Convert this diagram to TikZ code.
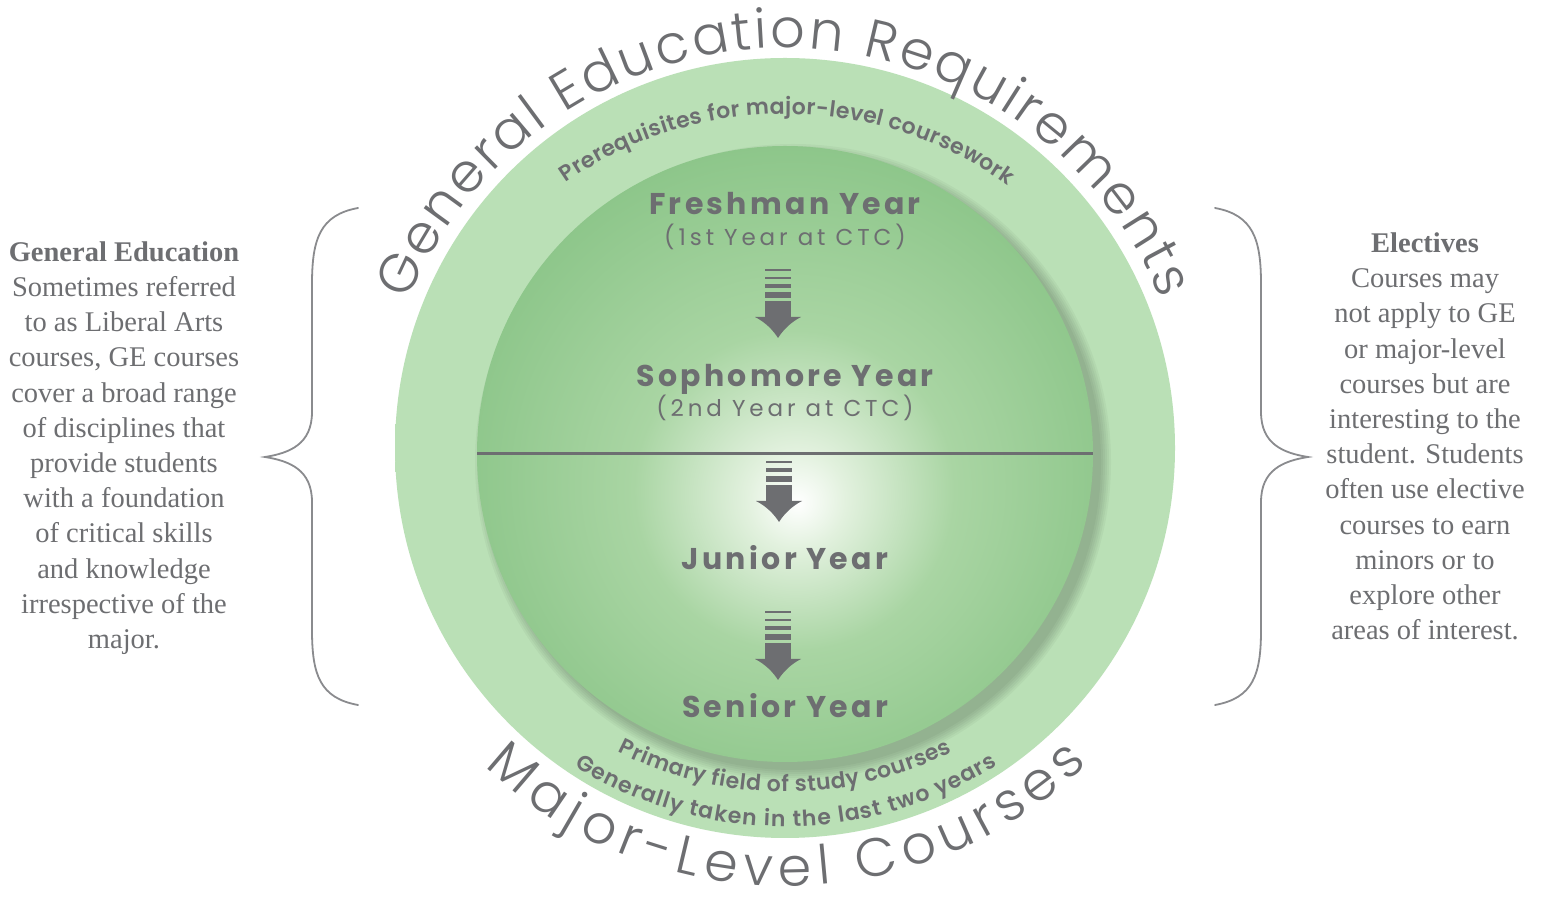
\documentclass[tikz,border=0pt]{standalone}
\usepackage{fontspec}
\setmainfont{Liberation Serif}
\newfontfamily\geolight{Poppins Light}
\newfontfamily\geoyear[LetterSpace=11]{Poppins Bold}
\newfontfamily\geosub[LetterSpace=17]{Poppins}
\newfontfamily\geoarc{Poppins SemiBold}
\usetikzlibrary{decorations.text}

\definecolor{tgray}{HTML}{6D6E71}
\definecolor{bracegray}{HTML}{8A8B8E}
\definecolor{ringA}{HTML}{BAE0B6}
\definecolor{ringB}{HTML}{AAD9A7}
\definecolor{ringC}{HTML}{9CD19C}
\definecolor{glowA}{HTML}{E2F1DE}
\definecolor{glowB}{HTML}{A9D5A3}
\definecolor{glowC}{HTML}{8DC68A}
\definecolor{glowD}{HTML}{7CB979}

% light ring of the outer disc, brighter towards the middle
\pgfdeclareradialshading{ringglow}{\pgfpoint{0bp}{0bp}}{%
  color(0bp)=(ringA); color(39.5bp)=(ringA); color(45bp)=(ringB); color(50bp)=(ringC)}
% inner disc: white glow slightly below the centre, fading to green
\pgfdeclareradialshading{yearglow}{\pgfpoint{1bp}{-4bp}}{%
  color(0bp)=(white); color(4bp)=(glowA); color(13bp)=(glowB); color(27bp)=(glowC); color(50bp)=(glowD)}

% bars and arrow head of the step arrows (tip at the origin)
\newcommand\stepshaft{%
  \fill[tgray] (-13,21) rectangle (13,37);
  \fill[tgray] (-23,21) .. controls (-13,16) and (-5,8) .. (0,0)
               .. controls (5,8) and (13,16) .. (23,21) -- cycle;
  \fill[tgray] (-13,40) rectangle (13,46);
  \fill[tgray] (-13,50) rectangle (13,53.5);
  \fill[tgray] (-13,58.5) rectangle (13,61);}

\tikzset{
  stepthree/.pic={\stepshaft},
  stepfour/.pic={\stepshaft \fill[tgray] (-13,66.5) rectangle (13,68.5);},
  yearlabel/.style={font=\geoyear\fontsize{30}{30}\selectfont, text=tgray, anchor=base, inner sep=0pt},
  yearsub/.style={font=\geosub\fontsize{23}{23}\selectfont, text=tgray, anchor=base, inner sep=0pt},
  sidetext/.style={font=\fontsize{28.5}{35.2}\selectfont, text=tgray, align=center, inner sep=0pt},
  bracestroke/.style={draw=bracegray, line width=1.8pt, line cap=round},
}

\begin{document}
\begin{tikzpicture}[x=1pt,y=1pt]
\useasboundingbox[fill=white] (0,0) rectangle (1541,899);

% outer disc
\node[circle, minimum size=780pt, inner sep=0pt, outer sep=0pt, shading=ringglow] (outer) at (785,451) {};

% soft shadow to the lower right of the inner disc
\foreach \r in {308,310,...,318}
  \fill[black, opacity=0.035] (793,437) circle[radius=\r pt];

% inner disc and its dividing line
\node[circle, minimum size=616pt, inner sep=0pt, outer sep=0pt, shading=yearglow] (inner) at (785,445) {};
\draw[tgray, line width=3pt] (inner.west) -- (inner.east);

% arc centres
\coordinate (gec) at (785,444);
\coordinate (mlc) at (785,449);
\coordinate (prc) at (785,401);
\coordinate (pfc) at (785,475);
\coordinate (gtc) at (785,470);

% large arc titles
\path[decorate, decoration={text along path, text align={fit to path},
  text={|\geolight\fontsize{54}{54}\selectfont\color{tgray}|General Education Requirements}}]
  ([shift={(157.8:407pt)}]gec) arc[start angle=157.8, end angle=22.5, radius=407pt];
\path[decorate, decoration={text along path, text align={fit to path},
  text={|\geolight\fontsize{54}{54}\selectfont\color{tgray}|Major-Level Courses}}]
  ([shift={(226.5:436pt)}]mlc) arc[start angle=226.5, end angle=314, radius=436pt];

% small arc captions on the ring
\path[decorate, decoration={text along path, text align={fit to path},
  text={|\geoarc\fontsize{22}{22}\selectfont\color{tgray}|Prerequisites for major-level coursework}}]
  ([shift={(124.8:384pt)}]prc) arc[start angle=124.8, end angle=54.5, radius=384pt];
\path[decorate, decoration={text along path, text align={fit to path},
  text={|\geoarc\fontsize{22}{22}\selectfont\color{tgray}|Primary field of study courses}}]
  ([shift={(243:368pt)}]pfc) arc[start angle=243, end angle=297, radius=368pt];
\path[decorate, decoration={text along path, text align={fit to path},
  text={|\geoarc\fontsize{22}{22}\selectfont\color{tgray}|Generally taken in the last two years}}]
  ([shift={(238:397.5pt)}]gtc) arc[start angle=238, end angle=302.3, radius=397.5pt];

% year labels
\node[yearlabel] (fresh) at (785,684) {Freshman Year};
\node[yearsub]   (freshsub) at (785,653) {(1st Year at CTC)};
\node[yearlabel] (soph) at (785,512) {Sophomore Year};
\node[yearsub]   (sophsub) at (785,482) {(2nd Year at CTC)};
\node[yearlabel] (junior) at (785,329) {Junior Year};
\node[yearlabel] (senior) at (785,181) {Senior Year};

% step arrows between the years
\pic (arrowone) at (778,561) {stepfour};
\pic (arrowtwo) at (779,377) {stepthree};
\pic (arrowthree) at (778,219) {stepfour};

% side notes
\node[sidetext] (getext) at (124,451) {\textbf{General Education}\\Sometimes referred\\to as Liberal Arts\\courses, GE courses\\cover a broad range\\of disciplines that\\provide students\\with a foundation\\of critical skills\\and knowledge\\irrespective of the\\major.};
\node[sidetext] (eltext) at (1425,462.5) {\textbf{Electives}\\Courses may\\not apply to GE\\or major-level\\courses but are\\interesting to the\\student. Students\\often use elective\\courses to earn\\minors or to\\explore other\\areas of interest.};

% curly braces
\coordinate (lbtop) at (358,691);
\coordinate (lbtip) at (265,442);
\coordinate (lbbot) at (358,194);
\draw[bracestroke] (lbtop) .. controls (320,684) and (312,660) .. (312,615) -- (312,487)
  .. controls (312,455) and (290,446) .. (lbtip)
  .. controls (290,438) and (312,429) .. (312,397) -- (312,269)
  .. controls (312,224) and (320,201) .. (lbbot);
\coordinate (rbtop) at (1215,691);
\coordinate (rbtip) at (1308,442);
\coordinate (rbbot) at (1215,194);
\draw[bracestroke] (rbtop) .. controls (1253,684) and (1261,660) .. (1261,615) -- (1261,487)
  .. controls (1261,455) and (1283,446) .. (rbtip)
  .. controls (1283,438) and (1261,429) .. (1261,397) -- (1261,269)
  .. controls (1261,224) and (1253,201) .. (rbbot);
\end{tikzpicture}
\end{document}
